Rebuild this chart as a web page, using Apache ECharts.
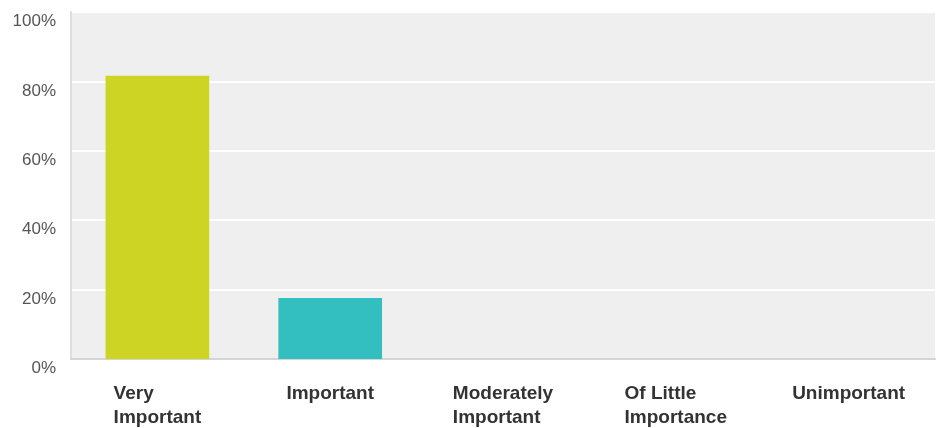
<!DOCTYPE html>
<html>
<head>
<meta charset="utf-8">
<script src="https://cdn.jsdelivr.net/npm/echarts@6/dist/echarts.min.js"></script>
<style>
html,body{margin:0;padding:0;background:#fff;}
#chart{width:936px;height:428px;}
</style>
</head>
<body>
<div id="chart"></div>
<script>
const categories = ['Very\nImportant', 'Important', 'Moderately\nImportant', 'Of Little\nImportance', 'Unimportant'];
const values = [81.6, 17.6, 0, 0, 0];
const barColors = ['#ced424', '#33bec0', '#ced424', '#ced424', '#ced424'];
const yTicks = [0, 20, 40, 60, 80, 100];

const chart = echarts.init(document.getElementById('chart'));
chart.setOption({
  animation: false,
  grid: { left: 71, right: 1, top: 12, bottom: 69, backgroundColor: '#efefef', show: true, borderWidth: 0 },
  xAxis: {
    type: 'category',
    data: categories,
    axisTick: { show: false },
    axisLine: { show: true, lineStyle: { color: '#d4d4d4', width: 2 } },
    axisLabel: {
      margin: 23,
      formatter: function (v) { return '{a|' + v.split('\n').join('}\n{a|') + '}'; },
      rich: {
        a: { fontFamily: 'Liberation Sans, Arial, sans-serif', fontWeight: 'bold', fontSize: 19, color: '#333', align: 'left', lineHeight: 24 }
      }
    }
  },
  yAxis: {
    type: 'value',
    min: 0, max: 100, interval: 20,
    axisLine: { show: true, lineStyle: { color: '#dedede', width: 2 } },
    axisTick: { show: false },
    splitLine: { show: true, lineStyle: { color: '#ffffff', width: 2 } },
    axisLabel: {
      margin: 15,
      verticalAlign: 'top',
      padding: [1, 0, 0, 0],
      formatter: function (v) { return yTicks.indexOf(v) >= 0 ? v + '%' : ''; },
      fontFamily: 'Liberation Sans, Arial, sans-serif',
      fontSize: 17,
      color: '#555'
    }
  },
  series: [{
    type: 'bar',
    data: values.map((v, i) => ({ value: v, itemStyle: { color: barColors[i] } })),
    barWidth: '60%'
  }]
});
</script>
</body>
</html>
